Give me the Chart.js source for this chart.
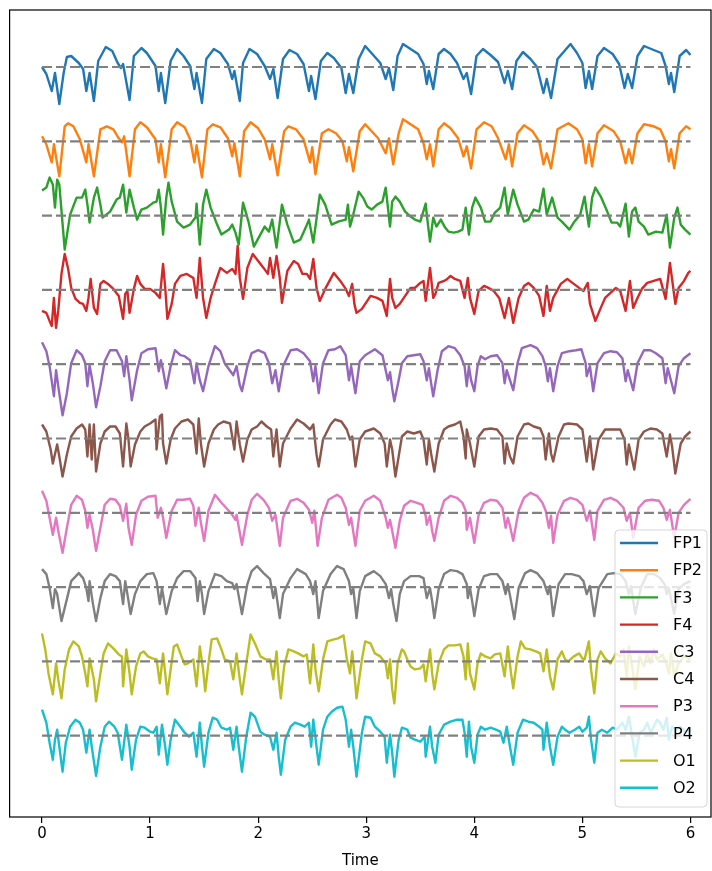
<!DOCTYPE html>
<html>
<head>
<meta charset="utf-8">
<script src="https://cdn.jsdelivr.net/npm/chart.js@4.4.0/dist/chart.umd.min.js"></script>
<style>
  html, body { margin: 0; padding: 0; background: #fff; }
  #wrap { width: 712px; height: 871px; overflow: hidden; }
</style>
</head>
<body>
<div id="wrap"><canvas id="eeg" width="712" height="871"></canvas></div>
<script>
const channels = ['FP1', 'FP2', 'F3', 'F4', 'C3', 'C4', 'P3', 'P4', 'O1', 'O2'];
const colors = ['#1f77b4', '#ff7f0e', '#2ca02c', '#d62728', '#9467bd', '#8c564b', '#e377c2', '#7f7f7f', '#bcbd22', '#17becf'];
const xTicks = [0, 1, 2, 3, 4, 5, 6];
const spacing = 74.3; // vertical offset between channels

// [time, value]
const fp1 = [[0,0],[0.04,-7],[0.09,-24],[0.12,-6],[0.16,-37],[0.2,-6],[0.23,10],[0.27,11],[0.34,4],[0.38,-2],[0.41,-24],[0.44,-6],[0.48,-34],[0.52,6],[0.59,20],[0.65,16],[0.7,4],[0.73,-1],[0.75,3],[0.81,-33],[0.85,11],[0.92,19],[0.97,14],[1.05,1],[1.08,-24],[1.1,-6],[1.14,-36],[1.19,6],[1.25,18],[1.31,11],[1.37,1],[1.41,-22],[1.43,-6],[1.48,-36],[1.52,8],[1.59,18],[1.65,14],[1.72,3],[1.76,-12],[1.78,-4],[1.83,-34],[1.86,4],[1.92,18],[1.99,13],[2.06,1],[2.11,-12],[2.14,-2],[2.18,-31],[2.23,8],[2.29,17],[2.36,13],[2.42,3],[2.47,-24],[2.49,-9],[2.53,-32],[2.58,6],[2.64,14],[2.7,9],[2.77,-1],[2.81,-26],[2.84,-7],[2.88,-26],[2.93,8],[2.99,21],[3.13,4],[3.18,-12],[3.21,-1],[3.25,-23],[3.29,11],[3.34,23],[3.41,18],[3.48,13],[3.53,3],[3.56,-17],[3.58,-4],[3.62,-22],[3.67,13],[3.72,18],[3.78,13],[3.84,4],[3.9,-12],[3.93,-6],[3.97,-27],[4.02,11],[4.08,18],[4.15,12],[4.22,5],[4.28,-16],[4.31,-4],[4.35,-22],[4.39,6],[4.45,15],[4.52,8],[4.58,0],[4.64,-26],[4.67,-12],[4.71,-31],[4.77,8],[4.89,23],[4.95,14],[5,4],[5.03,-21],[5.06,-4],[5.09,-22],[5.14,11],[5.2,19],[5.28,13],[5.34,3],[5.39,-21],[5.42,-7],[5.46,-21],[5.51,11],[5.57,21],[5.66,17],[5.73,14],[5.77,1],[5.8,-17],[5.82,-6],[5.85,-25],[5.9,11],[5.96,17],[6,12]];
const fp2 = [[0,5],[0.04,-3],[0.09,-21],[0.11,-3],[0.16,-35],[0.21,15],[0.24,18],[0.29,15],[0.35,2],[0.41,-21],[0.43,-3],[0.48,-35],[0.54,12],[0.6,15],[0.66,12],[0.71,3],[0.74,-1],[0.76,5],[0.81,-35],[0.86,12],[0.91,19],[0.97,14],[1.05,2],[1.08,-21],[1.1,-3],[1.14,-36],[1.2,12],[1.25,19],[1.32,14],[1.37,2],[1.41,-21],[1.43,-4],[1.48,-36],[1.53,12],[1.58,17],[1.65,14],[1.72,3],[1.76,-15],[1.78,-2],[1.83,-35],[1.87,10],[1.93,19],[2,13],[2.06,2],[2.11,-18],[2.13,-3],[2.18,-34],[2.24,10],[2.28,15],[2.35,12],[2.42,2],[2.48,-21],[2.5,-6],[2.53,-33],[2.59,8],[2.65,12],[2.72,8],[2.78,0],[2.82,-20],[2.84,-6],[2.88,-30],[2.94,10],[2.99,17],[3.11,3],[3.18,-12],[3.21,3],[3.25,-23],[3.3,8],[3.34,22],[3.41,17],[3.48,12],[3.53,-2],[3.56,-18],[3.59,-3],[3.62,-25],[3.67,12],[3.72,18],[3.78,13],[3.85,3],[3.9,-15],[3.93,-5],[3.97,-27],[4.02,12],[4.09,19],[4.16,15],[4.22,3],[4.29,-18],[4.32,-3],[4.35,-25],[4.4,8],[4.46,16],[4.54,10],[4.6,0],[4.64,-23],[4.67,-12],[4.71,-27],[4.77,12],[4.87,18],[4.95,12],[5,2],[5.03,-22],[5.06,-3],[5.09,-25],[5.14,8],[5.2,16],[5.29,10],[5.35,0],[5.4,-22],[5.43,-8],[5.46,-22],[5.51,8],[5.57,17],[5.66,15],[5.72,12],[5.77,0],[5.8,-20],[5.82,-8],[5.85,-27],[5.9,8],[5.96,15],[6,12]];
const f3 = [[0,25],[0.04,28],[0.07,38],[0.1,31],[0.12,8],[0.14,36],[0.16,31],[0.21,-34],[0.26,1],[0.32,18],[0.37,18],[0.4,26],[0.42,11],[0.44,-7],[0.48,18],[0.51,28],[0.54,11],[0.56,-2],[0.63,4],[0.69,16],[0.72,18],[0.75,31],[0.78,3],[0.81,26],[0.85,8],[0.88,-4],[0.92,6],[0.97,8],[1.03,13],[1.06,14],[1.08,26],[1.1,8],[1.12,-19],[1.15,18],[1.17,33],[1.2,14],[1.25,-6],[1.31,-12],[1.37,-9],[1.42,-2],[1.43,12],[1.46,-29],[1.49,11],[1.52,26],[1.56,8],[1.62,-9],[1.66,-19],[1.73,-14],[1.76,-9],[1.79,-17],[1.82,-29],[1.86,13],[1.91,-6],[1.96,-31],[2.02,-19],[2.06,-11],[2.1,-16],[2.13,-4],[2.17,-32],[2.22,11],[2.27,-9],[2.33,-27],[2.39,-24],[2.44,-12],[2.47,-4],[2.51,-27],[2.57,21],[2.62,11],[2.68,-9],[2.74,-6],[2.81,-4],[2.83,11],[2.85,-11],[2.88,1],[2.93,24],[2.97,18],[3.01,9],[3.05,6],[3.1,11],[3.15,14],[3.18,28],[3.22,-11],[3.24,14],[3.27,19],[3.31,14],[3.36,4],[3.41,-1],[3.45,-4],[3.5,-6],[3.55,12],[3.56,1],[3.59,-26],[3.62,-2],[3.65,-11],[3.69,-4],[3.73,-12],[3.76,-16],[3.81,-17],[3.85,-16],[3.89,-14],[3.92,8],[3.95,-19],[3.98,8],[4.01,18],[4.06,8],[4.1,-6],[4.15,-6],[4.19,3],[4.24,8],[4.28,28],[4.31,1],[4.36,26],[4.4,11],[4.46,-6],[4.5,-4],[4.55,6],[4.6,4],[4.64,27],[4.67,1],[4.72,18],[4.77,-2],[4.81,-6],[4.88,-14],[4.92,-7],[4.98,1],[5.02,19],[5.06,-11],[5.09,18],[5.12,28],[5.17,19],[5.23,4],[5.27,-7],[5.32,-7],[5.35,-11],[5.4,12],[5.43,-21],[5.46,4],[5.49,8],[5.52,-6],[5.57,-11],[5.61,-19],[5.68,-16],[5.74,-17],[5.78,1],[5.81,-32],[5.85,-2],[5.88,8],[5.91,-9],[5.95,-14],[6,-19]];
const f4 = [[0,-21],[0.04,-23],[0.07,-31],[0.09,-36],[0.11,-8],[0.13,-38],[0.15,-21],[0.18,16],[0.21,36],[0.24,22],[0.27,2],[0.31,-9],[0.35,-13],[0.38,-14],[0.41,-21],[0.43,-8],[0.45,11],[0.48,-18],[0.51,-24],[0.54,6],[0.57,9],[0.61,6],[0.66,1],[0.71,-6],[0.75,-29],[0.77,-4],[0.79,-1],[0.81,-23],[0.85,1],[0.88,14],[0.91,6],[0.95,1],[1,1],[1.05,-3],[1.09,-8],[1.12,26],[1.14,2],[1.16,-29],[1.2,-14],[1.23,6],[1.28,14],[1.34,16],[1.4,12],[1.43,-8],[1.46,32],[1.49,-8],[1.52,-28],[1.56,-8],[1.6,6],[1.65,22],[1.71,17],[1.76,21],[1.79,16],[1.81,44],[1.83,12],[1.86,-9],[1.9,22],[1.95,36],[2,29],[2.05,22],[2.09,16],[2.11,32],[2.14,12],[2.17,34],[2.2,12],[2.22,-13],[2.27,19],[2.33,29],[2.37,26],[2.41,16],[2.45,16],[2.48,11],[2.51,31],[2.54,2],[2.57,-11],[2.62,1],[2.7,17],[2.76,9],[2.81,1],[2.84,-6],[2.87,6],[2.89,-14],[2.91,-23],[2.96,-19],[3.04,-6],[3.1,-8],[3.15,-11],[3.19,-26],[3.22,11],[3.24,-8],[3.27,-18],[3.31,-14],[3.36,-6],[3.41,2],[3.45,2],[3.5,7],[3.53,9],[3.55,-11],[3.59,22],[3.62,-8],[3.64,-4],[3.67,7],[3.72,9],[3.75,11],[3.78,14],[3.82,11],[3.87,9],[3.91,-8],[3.94,12],[3.96,-8],[4,-24],[4.04,-1],[4.09,4],[4.13,2],[4.18,-1],[4.23,-8],[4.28,-28],[4.32,-8],[4.36,-33],[4.41,-8],[4.46,4],[4.5,7],[4.55,2],[4.6,-6],[4.64,-26],[4.67,4],[4.7,-21],[4.73,-8],[4.8,6],[4.86,11],[4.92,6],[4.97,2],[5.01,-1],[5.05,7],[5.07,-14],[5.12,-31],[5.17,-18],[5.21,-8],[5.26,-3],[5.31,2],[5.35,-1],[5.4,-21],[5.44,9],[5.47,-18],[5.51,-8],[5.55,1],[5.6,7],[5.66,9],[5.72,11],[5.77,-9],[5.81,27],[5.86,-14],[5.89,2],[5.94,9],[5.98,17],[6,19]];
const c3 = [[0,22],[0.04,13],[0.07,-2],[0.11,-32],[0.13,-6],[0.15,-22],[0.19,-51],[0.23,-29],[0.27,1],[0.32,14],[0.37,9],[0.4,1],[0.42,-22],[0.44,-1],[0.47,-19],[0.5,-43],[0.54,-22],[0.58,3],[0.63,14],[0.69,14],[0.74,3],[0.76,-12],[0.78,8],[0.81,-16],[0.83,-36],[0.88,-6],[0.92,11],[0.98,15],[1.05,16],[1.08,-7],[1.1,4],[1.12,-6],[1.15,-24],[1.19,-2],[1.23,14],[1.28,9],[1.32,8],[1.37,4],[1.41,-19],[1.43,1],[1.46,-16],[1.49,-27],[1.54,-2],[1.6,18],[1.65,13],[1.69,1],[1.73,-5],[1.77,-11],[1.8,-2],[1.83,-21],[1.85,-27],[1.9,-2],[1.94,11],[2,14],[2.06,11],[2.1,1],[2.13,-19],[2.16,-6],[2.19,-27],[2.23,-2],[2.3,14],[2.36,15],[2.42,11],[2.48,3],[2.51,-17],[2.53,-2],[2.56,-29],[2.6,1],[2.65,14],[2.71,15],[2.76,18],[2.81,9],[2.84,-16],[2.86,-2],[2.9,-29],[2.94,3],[2.99,9],[3.08,15],[3.15,9],[3.18,-6],[3.2,-16],[3.22,-8],[3.24,-24],[3.26,-37],[3.3,-16],[3.33,1],[3.38,8],[3.44,9],[3.5,10],[3.53,3],[3.56,-16],[3.58,-4],[3.6,-19],[3.62,-32],[3.66,-6],[3.7,13],[3.76,18],[3.82,16],[3.87,9],[3.91,-2],[3.93,-22],[3.95,-2],[3.97,-16],[4,-27],[4.03,-2],[4.06,8],[4.1,5],[4.15,8],[4.21,9],[4.26,1],[4.28,-19],[4.3,-6],[4.33,-16],[4.36,-26],[4.4,1],[4.44,16],[4.52,19],[4.58,16],[4.63,8],[4.66,-2],[4.68,-17],[4.7,-4],[4.73,-27],[4.77,-2],[4.81,11],[4.88,13],[4.94,14],[4.99,15],[5.03,1],[5.04,-12],[5.07,-2],[5.1,-27],[5.14,1],[5.2,11],[5.26,13],[5.32,12],[5.37,6],[5.4,-17],[5.42,-6],[5.47,-26],[5.51,1],[5.57,14],[5.63,14],[5.68,11],[5.74,6],[5.77,-19],[5.79,-4],[5.85,-29],[5.89,-2],[5.94,6],[6,11]];
const c4 = [[0,14],[0.04,7],[0.08,-11],[0.1,-25],[0.14,-6],[0.16,-18],[0.19,-38],[0.23,-16],[0.27,2],[0.32,10],[0.37,14],[0.4,9],[0.42,-18],[0.44,14],[0.46,-21],[0.48,14],[0.5,-33],[0.54,-5],[0.58,7],[0.63,12],[0.68,12],[0.72,5],[0.75,-28],[0.78,15],[0.8,-1],[0.82,-28],[0.86,-6],[0.91,7],[0.95,12],[1,15],[1.05,19],[1.06,-11],[1.09,22],[1.11,24],[1.12,-5],[1.15,-25],[1.19,-1],[1.23,10],[1.29,17],[1.35,19],[1.4,14],[1.43,-15],[1.45,20],[1.47,-5],[1.5,-28],[1.54,-5],[1.59,9],[1.63,14],[1.68,17],[1.74,15],[1.78,-11],[1.8,17],[1.83,-6],[1.86,-23],[1.9,-1],[1.94,9],[1.99,12],[2.03,17],[2.08,12],[2.12,9],[2.14,-18],[2.17,9],[2.2,-28],[2.23,-5],[2.3,10],[2.36,19],[2.42,15],[2.48,9],[2.51,14],[2.54,-16],[2.56,-28],[2.6,-1],[2.67,14],[2.71,19],[2.77,17],[2.82,9],[2.85,-1],[2.87,2],[2.9,-28],[2.94,-1],[2.99,7],[3.07,10],[3.13,5],[3.17,-5],[3.19,-28],[3.22,-1],[3.24,-11],[3.27,-38],[3.3,-18],[3.33,2],[3.38,7],[3.44,5],[3.5,7],[3.53,-1],[3.56,-26],[3.58,-1],[3.6,-15],[3.63,-33],[3.67,-5],[3.72,9],[3.76,12],[3.82,14],[3.87,17],[3.9,2],[3.92,-20],[3.93,9],[3.96,-5],[4,-28],[4.04,2],[4.09,9],[4.15,10],[4.21,9],[4.26,2],[4.28,-25],[4.3,-5],[4.33,-18],[4.36,-25],[4.4,2],[4.46,14],[4.5,15],[4.55,12],[4.61,10],[4.64,2],[4.66,-21],[4.69,5],[4.71,-15],[4.73,-23],[4.78,2],[4.83,14],[4.87,15],[4.95,14],[5,9],[5.04,-23],[5.07,2],[5.1,-31],[5.15,-1],[5.21,9],[5.29,9],[5.35,9],[5.39,-1],[5.41,-26],[5.43,-6],[5.48,-31],[5.52,-1],[5.57,7],[5.63,10],[5.69,9],[5.74,5],[5.78,-18],[5.81,4],[5.83,-8],[5.86,-35],[5.91,-5],[5.95,2],[6,7]];
const p3 = [[0,22],[0.04,12],[0.07,-5],[0.1,-22],[0.13,-5],[0.15,-18],[0.19,-40],[0.23,-15],[0.27,8],[0.32,17],[0.37,13],[0.4,2],[0.42,-15],[0.44,-2],[0.47,-17],[0.5,-38],[0.54,-15],[0.58,8],[0.63,14],[0.68,13],[0.72,7],[0.75,-8],[0.78,9],[0.8,-15],[0.83,-32],[0.87,-2],[0.92,12],[0.98,16],[1.05,17],[1.07,-5],[1.1,5],[1.12,-5],[1.15,-25],[1.2,2],[1.25,13],[1.31,13],[1.37,14],[1.4,7],[1.42,-13],[1.45,5],[1.47,-10],[1.5,-28],[1.54,2],[1.6,18],[1.66,10],[1.72,3],[1.76,-2],[1.79,-7],[1.8,-2],[1.85,-32],[1.9,-2],[1.94,13],[1.99,19],[2.05,13],[2.1,5],[2.13,-8],[2.16,-2],[2.2,-33],[2.23,-5],[2.3,12],[2.36,14],[2.42,10],[2.47,3],[2.5,-10],[2.52,2],[2.55,-33],[2.59,-5],[2.65,13],[2.73,18],[2.77,15],[2.81,5],[2.84,-12],[2.86,-5],[2.9,-33],[2.94,2],[2.99,12],[3.07,17],[3.13,12],[3.18,-5],[3.2,-15],[3.22,-7],[3.24,-18],[3.27,-35],[3.31,-8],[3.35,7],[3.41,12],[3.47,10],[3.52,8],[3.55,-3],[3.56,-12],[3.59,-3],[3.61,-18],[3.63,-28],[3.67,-5],[3.72,12],[3.78,17],[3.84,15],[3.89,10],[3.92,2],[3.93,-17],[3.96,-5],[3.98,-18],[4,-30],[4.04,-2],[4.09,10],[4.15,13],[4.21,12],[4.26,5],[4.29,-15],[4.31,-5],[4.33,-13],[4.36,-28],[4.41,2],[4.46,15],[4.52,20],[4.58,17],[4.63,10],[4.66,2],[4.69,-15],[4.71,-3],[4.73,-30],[4.77,-2],[4.83,12],[4.89,15],[4.95,13],[5,8],[5.04,-8],[5.07,2],[5.11,-27],[5.14,2],[5.2,13],[5.26,15],[5.32,12],[5.38,5],[5.41,-8],[5.44,0],[5.47,-25],[5.52,5],[5.58,12],[5.64,13],[5.71,12],[5.75,5],[5.78,-7],[5.81,3],[5.85,-25],[5.89,0],[5.94,8],[6,14]];
const p4 = [[0,18],[0.04,13],[0.07,-1],[0.1,-21],[0.12,-2],[0.14,-7],[0.18,-34],[0.23,-12],[0.27,6],[0.34,14],[0.38,9],[0.41,-1],[0.43,-14],[0.44,6],[0.47,-16],[0.5,-34],[0.54,-11],[0.58,6],[0.63,13],[0.68,11],[0.72,6],[0.75,-17],[0.77,6],[0.79,-7],[0.82,-27],[0.86,-7],[0.91,6],[0.97,13],[1.03,14],[1.06,6],[1.09,-17],[1.11,-1],[1.15,-27],[1.2,-4],[1.25,9],[1.31,16],[1.37,16],[1.42,9],[1.44,-14],[1.46,6],[1.48,-7],[1.5,-27],[1.54,-4],[1.6,13],[1.66,11],[1.71,6],[1.76,4],[1.78,-2],[1.8,3],[1.85,-27],[1.9,3],[1.94,16],[1.99,21],[2.05,14],[2.11,8],[2.14,-11],[2.16,-1],[2.2,-31],[2.23,-7],[2.3,9],[2.36,18],[2.44,13],[2.48,6],[2.51,-7],[2.53,6],[2.56,-31],[2.6,-4],[2.67,13],[2.73,21],[2.79,18],[2.84,6],[2.86,-7],[2.88,-1],[2.91,-31],[2.94,-4],[2.99,11],[3.07,16],[3.13,11],[3.18,3],[3.21,-11],[3.23,-2],[3.25,-17],[3.28,-34],[3.31,-7],[3.35,6],[3.41,11],[3.49,11],[3.53,9],[3.56,-11],[3.59,-1],[3.61,-14],[3.63,-31],[3.67,-2],[3.72,13],[3.78,17],[3.84,16],[3.89,13],[3.93,3],[3.94,-11],[3.96,-1],[3.98,-14],[4,-29],[4.04,-2],[4.09,11],[4.15,13],[4.21,13],[4.26,6],[4.29,-7],[4.31,3],[4.34,-14],[4.37,-32],[4.41,-1],[4.47,14],[4.52,17],[4.58,14],[4.64,6],[4.68,-7],[4.7,1],[4.73,-29],[4.78,3],[4.84,13],[4.9,13],[4.97,11],[5.01,6],[5.04,-7],[5.07,1],[5.11,-29],[5.15,-1],[5.23,13],[5.29,14],[5.35,13],[5.4,6],[5.43,-7],[5.45,1],[5.49,-27],[5.54,-1],[5.6,13],[5.66,13],[5.72,9],[5.76,3],[5.78,-7],[5.8,-1],[5.85,-27],[5.89,-2],[5.94,3],[6,6]];
const o1 = [[0,28],[0.03,12],[0.06,-12],[0.1,-33],[0.13,-2],[0.15,-18],[0.18,-37],[0.21,-8],[0.25,12],[0.29,20],[0.34,15],[0.37,5],[0.4,-12],[0.42,-25],[0.44,3],[0.48,-18],[0.5,-40],[0.54,-12],[0.57,8],[0.61,18],[0.66,13],[0.71,7],[0.74,5],[0.75,-25],[0.78,12],[0.81,-12],[0.83,-33],[0.87,-5],[0.91,8],[0.94,10],[0.98,5],[1.02,3],[1.06,2],[1.09,-22],[1.12,8],[1.14,-12],[1.16,-33],[1.19,-8],[1.22,15],[1.25,17],[1.29,5],[1.32,-3],[1.35,-2],[1.4,2],[1.43,-25],[1.46,15],[1.49,-8],[1.51,-30],[1.54,-2],[1.57,22],[1.62,23],[1.66,12],[1.69,2],[1.74,0],[1.77,-18],[1.8,8],[1.83,-18],[1.85,-33],[1.89,-2],[1.93,27],[1.97,18],[2.02,5],[2.07,2],[2.11,2],[2.14,-18],[2.17,10],[2.19,-18],[2.21,-37],[2.24,-5],[2.28,12],[2.33,10],[2.37,8],[2.42,5],[2.45,7],[2.48,-22],[2.51,17],[2.53,-8],[2.56,-30],[2.6,2],[2.64,20],[2.7,22],[2.74,23],[2.79,26],[2.82,3],[2.85,-12],[2.87,10],[2.89,-12],[2.91,-37],[2.96,2],[2.99,20],[3.04,18],[3.08,8],[3.13,5],[3.18,-2],[3.2,-17],[3.22,2],[3.24,-28],[3.26,-42],[3.29,-2],[3.33,12],[3.35,10],[3.38,2],[3.41,-5],[3.45,-8],[3.5,-7],[3.53,-3],[3.55,-20],[3.59,12],[3.61,-12],[3.63,-28],[3.67,-2],[3.72,12],[3.76,16],[3.82,16],[3.87,17],[3.9,5],[3.92,-18],[3.94,18],[3.96,-12],[4,-28],[4.03,-2],[4.06,8],[4.1,5],[4.15,3],[4.19,7],[4.24,8],[4.28,-15],[4.31,15],[4.34,-12],[4.36,-27],[4.4,5],[4.43,20],[4.47,13],[4.52,12],[4.57,10],[4.61,8],[4.64,-10],[4.67,12],[4.7,-15],[4.73,-28],[4.77,2],[4.81,10],[4.84,2],[4.87,0],[4.92,5],[4.97,8],[5,3],[5.02,2],[5.06,20],[5.08,-8],[5.11,-32],[5.14,2],[5.17,10],[5.21,3],[5.26,-2],[5.31,8],[5.35,5],[5.38,12],[5.41,-15],[5.43,15],[5.46,-5],[5.49,-28],[5.53,5],[5.57,-5],[5.6,8],[5.63,-2],[5.66,12],[5.69,2],[5.74,7],[5.77,0],[5.8,-12],[5.82,8],[5.85,-15],[5.89,-2],[5.94,5],[6,2]];
const o2 = [[0,26],[0.04,13],[0.07,-7],[0.1,-24],[0.12,-4],[0.14,6],[0.16,-11],[0.19,-36],[0.22,-7],[0.26,9],[0.31,16],[0.35,13],[0.38,6],[0.41,-17],[0.44,6],[0.46,-11],[0.5,-40],[0.54,-11],[0.58,9],[0.62,14],[0.67,9],[0.7,3],[0.74,-24],[0.78,11],[0.81,-11],[0.83,-34],[0.87,-4],[0.91,9],[0.95,8],[1,4],[1.03,3],[1.06,9],[1.08,-19],[1.11,11],[1.14,-11],[1.16,-29],[1.19,-4],[1.23,16],[1.28,9],[1.32,3],[1.36,-1],[1.4,3],[1.43,-21],[1.46,13],[1.48,-11],[1.5,-31],[1.54,3],[1.58,18],[1.62,16],[1.66,8],[1.71,6],[1.74,8],[1.77,-14],[1.8,9],[1.82,-11],[1.85,-36],[1.89,-1],[1.93,23],[1.97,19],[2.02,4],[2.06,1],[2.11,-1],[2.14,-14],[2.17,3],[2.19,-21],[2.21,-39],[2.25,-4],[2.3,9],[2.34,13],[2.39,11],[2.43,9],[2.47,13],[2.49,-11],[2.51,16],[2.54,-11],[2.56,-29],[2.6,6],[2.64,19],[2.68,24],[2.73,28],[2.78,29],[2.81,16],[2.84,-11],[2.86,6],[2.88,-11],[2.91,-41],[2.96,3],[2.99,19],[3.04,18],[3.08,9],[3.13,4],[3.17,-1],[3.19,-27],[3.22,1],[3.24,-17],[3.26,-41],[3.3,-4],[3.33,8],[3.38,6],[3.41,-2],[3.45,-4],[3.5,-6],[3.54,-1],[3.55,-21],[3.59,9],[3.61,-11],[3.64,-27],[3.67,1],[3.72,11],[3.78,14],[3.84,16],[3.89,16],[3.91,3],[3.93,-21],[3.95,14],[3.97,-11],[4,-27],[4.03,1],[4.06,9],[4.1,6],[4.15,8],[4.2,6],[4.24,4],[4.27,-7],[4.3,9],[4.33,-11],[4.36,-29],[4.4,3],[4.45,16],[4.5,14],[4.55,13],[4.6,9],[4.63,6],[4.64,-14],[4.67,13],[4.7,-11],[4.73,-29],[4.77,-1],[4.81,9],[4.84,6],[4.88,3],[4.93,6],[4.97,9],[5,4],[5.04,8],[5.06,19],[5.08,-4],[5.11,-27],[5.14,3],[5.18,6],[5.23,3],[5.28,8],[5.32,6],[5.37,13],[5.4,6],[5.43,19],[5.46,-1],[5.49,-21],[5.53,3],[5.57,6],[5.6,13],[5.63,3],[5.66,9],[5.69,16],[5.72,13],[5.75,6],[5.78,18],[5.8,-4],[5.83,9],[5.86,6],[5.91,9],[5.95,4],[6,6]];

const traces = [fp1, fp2, f3, f4, c3, c4, p3, p4, o1, o2];

const datasets = [];
traces.forEach((trace, i) => {
  const off = -i * spacing;
  datasets.push({
    label: channels[i],
    data: trace.map(p => ({ x: p[0], y: p[1] + off })),
    borderColor: colors[i],
    borderWidth: 2.4,
    pointRadius: 0,
    tension: 0,
    fill: false,
    borderJoinStyle: 'round'
  });
});
// dashed zero line for every channel, drawn on top
traces.forEach((trace, i) => {
  datasets.push({
    label: '',
    data: [{ x: 0, y: -i * spacing }, { x: 6, y: -i * spacing }],
    borderColor: '#808080',
    borderWidth: 2.2,
    borderDash: [10, 4],
    pointRadius: 0,
    order: -1
  });
});

// axes box + matplotlib-like legend in the lower right
const boxAndLegend = {
  id: 'boxAndLegend',
  afterDatasetsDraw(chart) {
    const { ctx, chartArea: a } = chart;
    ctx.save();
    ctx.strokeStyle = '#000';
    ctx.lineWidth = 1.2;
    ctx.strokeRect(a.left, a.top, a.right - a.left, a.bottom - a.top);

    const lx = a.right - 96, ly = a.bottom - 287, lw = 92, lh = 277;
    ctx.beginPath();
    ctx.roundRect(lx, ly, lw, lh, 4);
    ctx.fillStyle = 'rgba(255,255,255,0.8)';
    ctx.fill();
    ctx.strokeStyle = 'rgba(204,204,204,0.8)';
    ctx.lineWidth = 1;
    ctx.stroke();

    ctx.font = '16px "DejaVu Sans"';
    ctx.textBaseline = 'middle';
    ctx.fillStyle = '#000';
    channels.forEach((name, i) => {
      const y = ly + 13 + i * 27.2;
      ctx.beginPath();
      ctx.moveTo(lx + 5, y);
      ctx.lineTo(lx + 43, y);
      ctx.strokeStyle = colors[i];
      ctx.lineWidth = 2.4;
      ctx.stroke();
      ctx.fillText(name, lx + 58, y + 1);
    });
    ctx.restore();
  }
};

new Chart(document.getElementById('eeg'), {
  type: 'line',
  data: { datasets },
  options: {
    responsive: false,
    animation: false,
    devicePixelRatio: 1,
    layout: { padding: { left: 9.6, top: 10, right: 1, bottom: 0 } },
    plugins: { legend: { display: false }, tooltip: { enabled: false } },
    scales: {
      x: {
        type: 'linear',
        min: -0.3,
        max: 6.19,
        afterBuildTicks: s => { s.ticks = xTicks.map(v => ({ value: v })); },
        afterFit: s => { s.height = 54; },
        grid: { drawOnChartArea: false, drawTicks: true, tickLength: 6, color: '#000', lineWidth: 1.2 },
        border: { display: false },
        ticks: { color: '#000', font: { family: 'DejaVu Sans', size: 15 }, padding: 2, maxRotation: 0 },
        title: { display: true, text: 'Time', color: '#000', font: { family: 'DejaVu Sans', size: 15 }, padding: { top: 0, bottom: 1 } }
      },
      y: { display: false, min: -750, max: 57 }
    }
  },
  plugins: [boxAndLegend]
});
</script>
</body>
</html>
